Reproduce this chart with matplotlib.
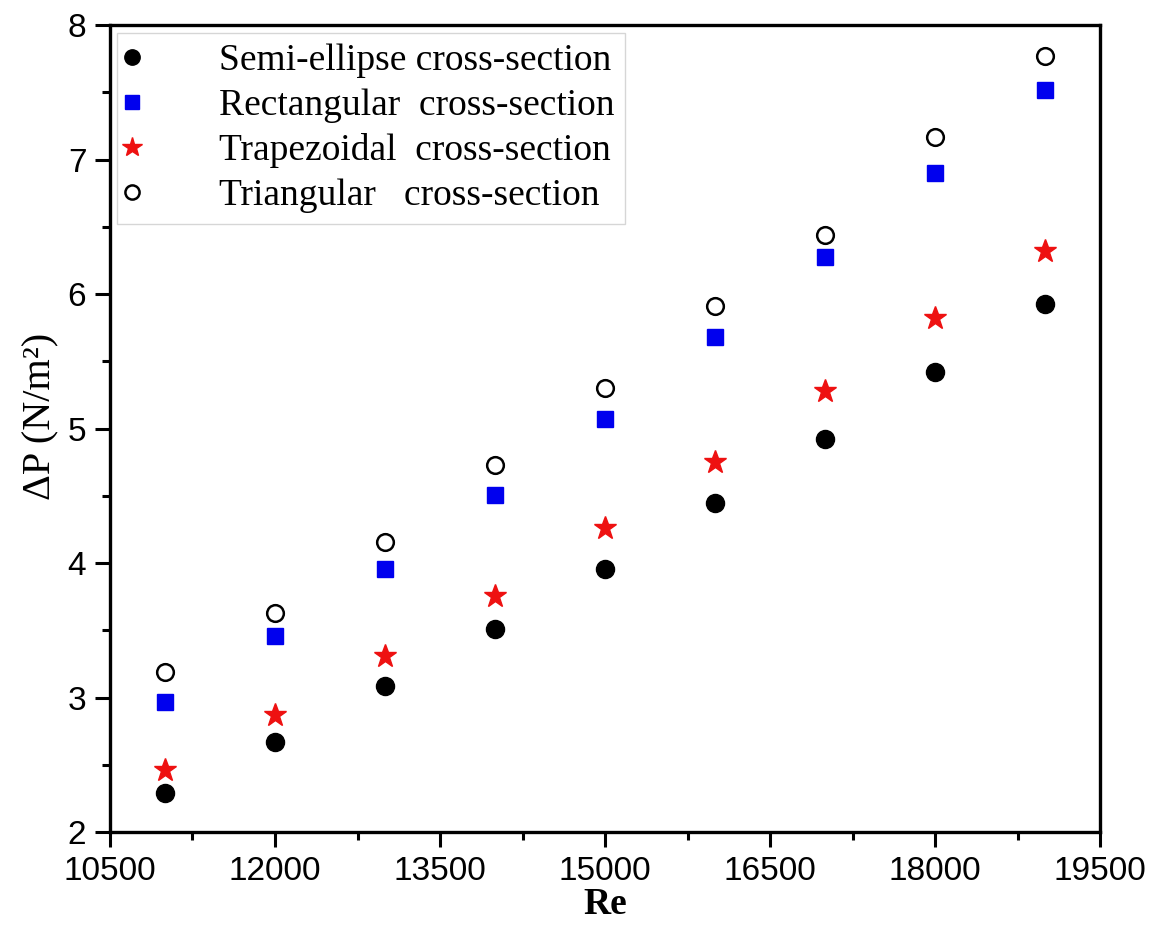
import matplotlib.pyplot as plt
from matplotlib.ticker import MultipleLocator

# Data
re_values = [11000, 12000, 13000, 14000, 15000, 16000, 17000, 18000, 19000]
semi_ellipse = [2.29, 2.67, 3.09, 3.51, 3.96, 4.45, 4.92, 5.42, 5.93]
rectangular = [2.97, 3.46, 3.96, 4.51, 5.07, 5.68, 6.28, 6.90, 7.52]
trapezoidal = [2.46, 2.87, 3.31, 3.76, 4.26, 4.75, 5.28, 5.82, 6.32]
triangular = [3.19, 3.63, 4.16, 4.73, 5.30, 5.91, 6.44, 7.17, 7.77]

x_ticks = [10500, 12000, 13500, 15000, 16500, 18000, 19500]
y_ticks = [2, 3, 4, 5, 6, 7, 8]

fig = plt.figure(figsize=(11.61, 9.32), dpi=100)
ax = fig.add_axes([0.0947, 0.107, 0.853, 0.866])

ax.plot(re_values, semi_ellipse, 'o', color='black', markersize=13,
        linestyle='none', label='Semi-ellipse cross-section')
ax.plot(re_values, rectangular, 's', color='#0000ee', markersize=12,
        linestyle='none', label='Rectangular  cross-section')
ax.plot(re_values, trapezoidal, '*', color='#ee1111', markersize=17,
        linestyle='none', label='Trapezoidal  cross-section')
ax.plot(re_values, triangular, 'o', markerfacecolor='white', markeredgecolor='black',
        markeredgewidth=1.8, markersize=12, linestyle='none',
        label='Triangular   cross-section')

ax.set_xlim(10500, 19500)
ax.set_ylim(2, 8)
ax.set_xticks(x_ticks)
ax.set_yticks(y_ticks)
ax.xaxis.set_minor_locator(MultipleLocator(750))
ax.yaxis.set_minor_locator(MultipleLocator(0.5))

for spine in ax.spines.values():
    spine.set_linewidth(2.4)
ax.tick_params(which='major', direction='out', length=11, width=2.2, labelsize=24, pad=6)
ax.tick_params(which='minor', direction='out', length=6, width=2.2)
ax.tick_params(top=False, right=False, which='both')
for lbl in ax.get_xticklabels() + ax.get_yticklabels():
    lbl.set_fontfamily('Liberation Sans')

ax.set_xlabel('Re', fontsize=27, fontweight='bold', fontfamily='Liberation Serif', labelpad=0)
ax.set_ylabel('ΔP (N/m²)', fontsize=29, fontfamily='Liberation Serif', labelpad=6)
ax.yaxis.label.set_y(0.515)

leg = ax.legend(loc='upper left', bbox_to_anchor=(0.0, 1.0),
                prop={'family': 'Liberation Serif', 'size': 27},
                frameon=True, fancybox=False, markerscale=0.85,
                handlelength=0.2, handletextpad=2.2, borderpad=0.3,
                labelspacing=0.27, borderaxespad=0.2)
leg.get_frame().set_edgecolor('#cccccc')
leg.get_frame().set_linewidth(1.0)

plt.savefig('out.png', dpi=100)
